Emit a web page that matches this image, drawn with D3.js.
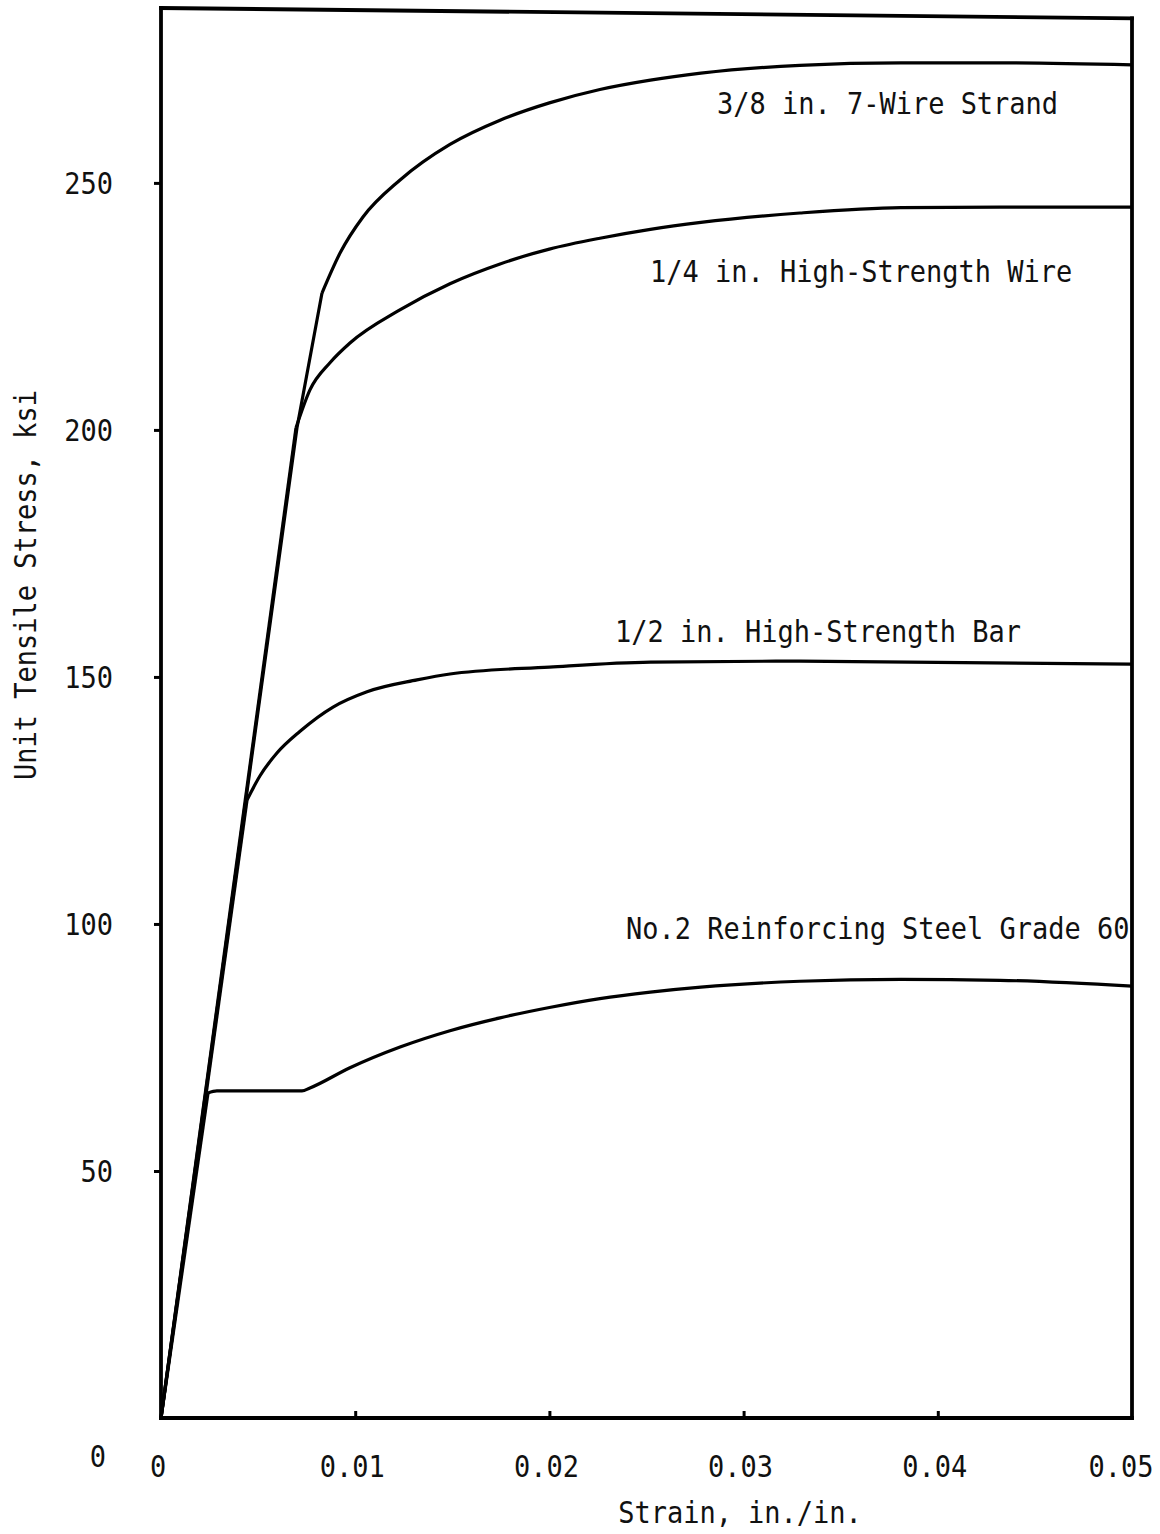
<!DOCTYPE html>
<html>
<head>
<meta charset="utf-8">
<script src="https://cdn.jsdelivr.net/npm/d3@7"></script>
<style>
  body { margin: 0; background: #fff; }
  svg text { font-family: "DejaVu Sans Mono", monospace; font-size: 30px; fill: #111; }
</style>
</head>
<body>
<div id="chart"></div>
<script>
// strain (in./in.) and stress (ksi)
var strandStrain = [0, 0.0070, 0.00829, 0.00922, 0.0104, 0.01231, 0.01488, 0.01746, 0.0200, 0.0226, 0.0252, 0.0278, 0.0329, 0.0381, 0.0432, 0.0500];
var strandStress = [0, 200.4, 227.7, 235.8, 243.1, 250.6, 257.8, 262.7, 266.2, 268.9, 270.8, 272.2, 273.8, 274.3, 274.3, 273.9];

var wireStrain = [0, 0.00695, 0.00767, 0.0087, 0.00973, 0.0123, 0.01488, 0.01746, 0.0200, 0.0226, 0.0252, 0.0278, 0.0329, 0.0381, 0.0432, 0.0500];
var wireStress = [0, 200.4, 208.1, 213.6, 217.6, 224.3, 229.6, 233.6, 236.6, 238.8, 240.6, 242.0, 243.9, 245.0, 245.1, 245.1];

var barStrain = [0, 0.00443, 0.0051, 0.00597, 0.00716, 0.00886, 0.01061, 0.01318, 0.01488, 0.0200, 0.0252, 0.0329, 0.0500];
var barStress = [0, 125.1, 130.0, 134.6, 139.0, 143.9, 147.0, 149.4, 150.6, 152.0, 153.0, 153.2, 152.6];

var rebarStrain = [0, 0.00242, 0.00288, 0.00726, 0.00767, 0.00973, 0.01231, 0.01488, 0.01746, 0.0200, 0.0226, 0.0252, 0.0278, 0.0329, 0.0381, 0.0432, 0.0500];
var rebarStress = [0, 65.8, 66.2, 66.2, 66.8, 70.9, 75.1, 78.4, 81.0, 83.1, 84.9, 86.2, 87.2, 88.4, 88.8, 88.6, 87.4];

// index where the straight elastic part ends
var elasticEnd = [2, 1, 1, 1];

var seriesNames = ["3/8 in. 7-Wire Strand", "1/4 in. High-Strength Wire", "1/2 in. High-Strength Bar", "No.2 Reinforcing Steel Grade 60"];

var xTicks = [0, 0.01, 0.02, 0.03, 0.04, 0.05];
var yTicks = [0, 50, 100, 150, 200, 250];
var xTitle = "Strain, in./in.";
var yTitle = "Unit Tensile Stress, ksi";

var width = 1160, height = 1534;
var x0 = 161, x1 = 1132, yBottom = 1418, yTopPx = 8;

var svg = d3.select("#chart").append("svg")
  .attr("width", width)
  .attr("height", height);

var x = d3.scaleLinear().domain([0, 0.05]).range([x0, x1]);
var y = d3.scaleLinear().domain([0, 285.4]).range([yBottom, yTopPx]);

// text squeezed a bit to look like the typewriter font
function label(xp, yp, txt, anchor, rot) {
  var g = svg.append("g")
    .attr("transform", "translate(" + xp + "," + yp + ")" + (rot ? " rotate(" + rot + ")" : "") + " scale(0.9,1)");
  g.append("text")
    .attr("text-anchor", anchor || "start")
    .text(txt);
  return g;
}

// frame
var frame = svg.append("g").attr("class", "frame")
  .attr("fill", "none").attr("stroke", "#000").attr("stroke-width", 3.8)
  .attr("stroke-linecap", "square");
frame.append("line").attr("x1", x(0)).attr("y1", y(285.4)).attr("x2", x(0)).attr("y2", y(0));
frame.append("line").attr("x1", x(0)).attr("y1", y(0)).attr("x2", x(0.05)).attr("y2", y(0));
frame.append("line").attr("x1", x(0.05)).attr("y1", y(0)).attr("x2", x(0.05)).attr("y2", y(283.3));
frame.append("line").attr("x1", x(0)).attr("y1", y(285.4)).attr("x2", x(0.05)).attr("y2", y(283.3));

// tick marks
var xAxis = svg.append("g")
  .attr("transform", "translate(0," + yBottom + ")")
  .call(d3.axisBottom(x).tickValues(xTicks.slice(1, -1)).tickSizeInner(-7).tickSizeOuter(0).tickFormat(""));
var yAxis = svg.append("g")
  .attr("transform", "translate(" + x0 + ",0)")
  .call(d3.axisLeft(y).tickValues(yTicks.slice(1)).tickSizeInner(7).tickSizeOuter(0).tickFormat(""));
[xAxis, yAxis].forEach(function(a) {
  a.select(".domain").remove();
  a.selectAll(".tick line").attr("stroke", "#000").attr("stroke-width", 3);
});

// tick labels
xTicks.forEach(function(v) {
  label(Math.min(x(v) - 3, 1121), 1477, v === 0 ? "0" : d3.format(".2f")(v), "middle");
});
yTicks.forEach(function(v) {
  label(v === 0 ? 106 : 113, y(v) + 11 + (v === 0 ? 38 : 0), String(v), "end");
});

// axis titles
label(740, 1523, xTitle, "middle");
label(36, 585, yTitle, "middle", -90);

// curves
var series = [
  [strandStrain, strandStress],
  [wireStrain, wireStress],
  [barStrain, barStress],
  [rebarStrain, rebarStress]
];

var straight = d3.line().x(function(d) { return x(d[0]); }).y(function(d) { return y(d[1]); });
var smooth = d3.line().x(function(d) { return x(d[0]); }).y(function(d) { return y(d[1]); })
  .curve(d3.curveMonotoneX);

var curves = svg.append("g").attr("class", "curves")
  .attr("fill", "none").attr("stroke", "#000").attr("stroke-width", 3.2)
  .attr("stroke-linejoin", "round");

series.forEach(function(s, i) {
  var pts = s[0].map(function(e, j) { return [e, s[1][j]]; });
  var k = elasticEnd[i];
  curves.append("path").attr("d", straight(pts.slice(0, k + 1)));
  curves.append("path").attr("d", smooth(pts.slice(k)));
});

// curve labels
label(717, 114, seriesNames[0]);
label(650, 282, seriesNames[1]);
label(615, 642, seriesNames[2]);
label(626, 939, seriesNames[3]);
</script>
</body>
</html>
